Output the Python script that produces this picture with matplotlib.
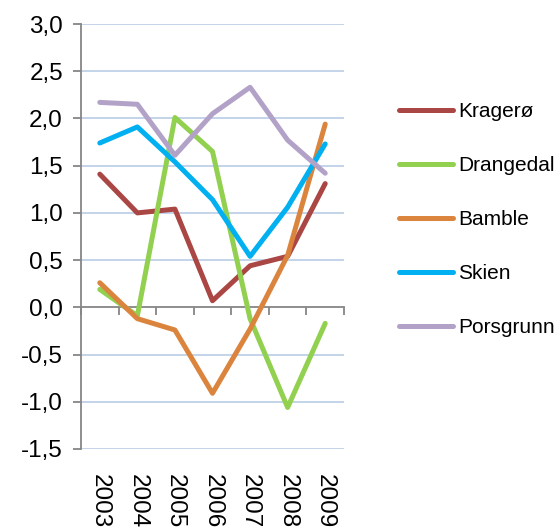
import numpy as np
import matplotlib.pyplot as plt
import matplotlib.transforms as mtransforms

plt.rcParams['font.family'] = ['Liberation Sans', 'DejaVu Sans']

# data
years = ['2003', '2004', '2005', '2006', '2007', '2008', '2009']
kragero = [1.41, 1.00, 1.04, 0.07, 0.44, 0.54, 1.31]
drangedal = [0.19, -0.09, 2.01, 1.65, -0.12, -1.06, -0.17]
bamble = [0.26, -0.12, -0.24, -0.91, -0.23, 0.55, 1.94]
skien = [1.74, 1.91, 1.54, 1.14, 0.54, 1.06, 1.73]
porsgrunn = [2.17, 2.15, 1.61, 2.05, 2.33, 1.77, 1.42]

names = ['Kragerø', 'Drangedal', 'Bamble', 'Skien', 'Porsgrunn']
series = [kragero, drangedal, bamble, skien, porsgrunn]
colors = ['#AA4643', '#92D050', '#DB843D', '#00B0F0', '#B3A2C7']

fig = plt.figure(figsize=(5.57, 5.30), dpi=100)
ax = fig.add_axes([81 / 557, 1 - 449 / 530, 263 / 557, 425 / 530])

x = np.arange(len(years))
for vals, name, c in zip(series, names, colors):
    ax.plot(x, vals, color=c, lw=3.6, label=name,
            solid_capstyle='round', solid_joinstyle='round', zorder=3)

ax.set_xlim(-0.5, len(years) - 0.5)
ax.set_ylim(-1.5, 3.0)
yt = np.arange(-1.5, 3.01, 0.5)
ax.set_yticks(yt)
ax.set_yticklabels([f'{v:.1f}'.replace('.', ',') for v in yt], fontsize=17.5)
for v in yt:
    if abs(v) > 1e-9:
        ax.axhline(v, color='#B9CDE5', lw=1.2, zorder=1)

for s in ['top', 'right']:
    ax.spines[s].set_visible(False)
ax.spines['left'].set_color('#868686')
ax.spines['left'].set_linewidth(1.3)
ax.spines['bottom'].set_position(('data', 0))
ax.spines['bottom'].set_color('#868686')
ax.spines['bottom'].set_linewidth(1.3)
ax.tick_params(axis='y', direction='out', length=6, width=1.3, color='#868686', pad=7)
ax.set_xticks(np.arange(-0.5, len(years), 1.0))
ax.set_xticklabels([])
ax.tick_params(axis='x', direction='out', length=6, width=1.3, color='#868686')

trans = mtransforms.blended_transform_factory(ax.transData, ax.transAxes)
for i, yr in enumerate(years):
    ax.text(i, -0.06, yr, transform=trans, rotation=270, fontsize=17.5,
            ha='center', va='top')

fig.legend(loc='upper left', bbox_to_anchor=(399 / 557, 1 - 102 / 530),
           frameon=False, fontsize=15, handlelength=2.6, handletextpad=0.25,
           labelspacing=1.68, borderpad=0, borderaxespad=0)

fig.savefig('out.png', dpi=100)
